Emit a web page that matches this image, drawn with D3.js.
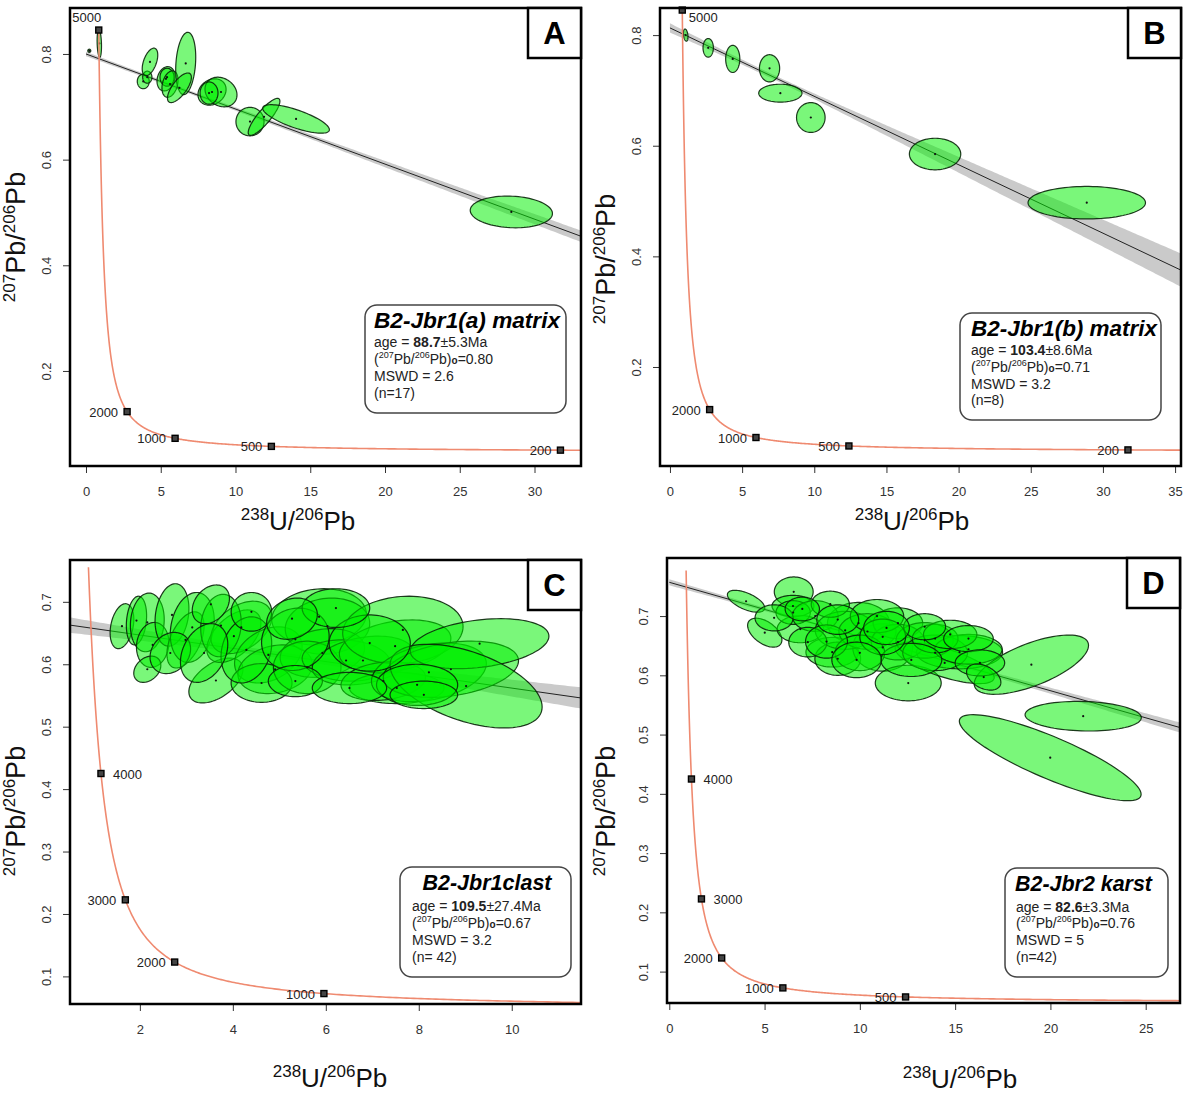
<!DOCTYPE html>
<html>
<head>
<meta charset="utf-8">
<script src="https://cdn.jsdelivr.net/npm/d3@7"></script>
<style>
  body { margin: 0; background: #fff; }
  text { font-family: "Liberation Sans", Arial, sans-serif; }
</style>
</head>
<body>
<div id="viz"></div>
<script>
// ---- data ----
const panelLetters = ['A', 'B', 'C', 'D'];
const sampleNames = ['B2-Jbr1(a) matrix', 'B2-Jbr1(b) matrix', 'B2-Jbr1clast', 'B2-Jbr2 karst'];
const ageValues = ['88.7', '103.4', '109.5', '82.6'];
const ageErrors = ['5.3', '8.6', '27.4', '3.3'];
const initialRatios = ['0.80', '0.71', '0.67', '0.76'];
const mswdValues = ['2.6', '3.2', '3.2', '5'];
const nLabels = ['(n=17)', '(n=8)', '(n= 42)', '(n=42)'];
// 207/206 at x = 0 where the drawn regression line starts
const lineIntercepts = [0.80, 0.813, 0.668, 0.757];

const xDomains = [[-1.07, 33.11], [-0.69, 35.41], [0.497, 11.49], [-0.12, 26.8]];
const yDomains = [[0.0201, 0.887], [0.021, 0.849], [0.0558, 0.767], [0.047, 0.798]];
const xTicks = [[0, 5, 10, 15, 20, 25, 30], [0, 5, 10, 15, 20, 25, 30, 35], [2, 4, 6, 8, 10], [0, 5, 10, 15, 20, 25]];
const yTicks = [[0.2, 0.4, 0.6, 0.8], [0.2, 0.4, 0.6, 0.8], [0.1, 0.2, 0.3, 0.4, 0.5, 0.6, 0.7], [0.1, 0.2, 0.3, 0.4, 0.5, 0.6, 0.7]];

const markerAges = [[5000, 2000, 1000, 500, 200], [5000, 2000, 1000, 500, 200], [4000, 3000, 2000, 1000], [4000, 3000, 2000, 1000, 500]];
const markerSides = [['top', 'left', 'left', 'left', 'left'], ['below', 'left', 'left', 'left', 'left'],
                     ['right', 'left', 'left', 'left'], ['right', 'right', 'left', 'left', 'left']];
const concordiaMaxAge = [5000, 5100, 4840, 4880];

// confidence band of the regression: centre x, min half width, slope error
const bandCentreX = [7, 7, 5, 10];
const bandMinHalf = [0.003, 0.004, 0.005, 0.001];
const bandSlopeErr = [0.0004, 0.00105, 0.0025, 0.0005];

// ellipses: [238U/206Pb, 207Pb/206Pb, sx, sy, rho]
const ellipsesA = [
  [0.22, 0.806, 0.10, 0.003, 0], [0.89, 0.820, 0.147, 0.0265, -0.2],
  [3.83, 0.748, 0.40, 0.0138, 0], [4.10, 0.756, 0.31, 0.0114, 0],
  [4.28, 0.785, 0.52, 0.026, 0.5], [5.35, 0.753, 0.60, 0.023, 0.2],
  [5.42, 0.756, 0.47, 0.017, 0], [5.62, 0.743, 0.54, 0.025, 0.3],
  [6.67, 0.782, 0.67, 0.059, 0.2], [6.25, 0.736, 0.80, 0.028, 0.7],
  [8.43, 0.728, 0.94, 0.025, 0.2], [9.03, 0.728, 1.07, 0.028, -0.2],
  [8.23, 0.726, 0.60, 0.021, 0], [10.97, 0.672, 0.94, 0.027, 0],
  [11.91, 0.681, 1.06, 0.035, 0.85], [14.05, 0.677, 2.23, 0.027, -0.75],
  [28.45, 0.501, 2.75, 0.030, -0.1]
];
const ellipsesB = [
  [1.09, 0.800, 0.16, 0.011, -0.3], [2.65, 0.777, 0.36, 0.0168, 0],
  [4.35, 0.757, 0.49, 0.0246, 0], [6.90, 0.740, 0.70, 0.0246, 0],
  [7.65, 0.695, 1.50, 0.0162, 0], [9.76, 0.651, 0.99, 0.027, 0],
  [18.37, 0.585, 1.78, 0.0285, 0], [28.88, 0.497, 4.07, 0.0294, 0]
];
const ellipsesC = [
  [1.615, 0.661, 0.255, 0.036, 0.3], [1.927, 0.670, 0.218, 0.039, 0.2],
  [2.16, 0.667, 0.364, 0.047, 0.1], [2.276, 0.631, 0.349, 0.036, 0.1],
  [2.16, 0.592, 0.291, 0.021, 0.3], [2.691, 0.679, 0.364, 0.050, 0.2],
  [2.982, 0.639, 0.40, 0.045, 0.5], [3.127, 0.659, 0.473, 0.056, 0.2],
  [3.636, 0.574, 0.582, 0.036, 0.5], [4.022, 0.645, 0.582, 0.042, 0.5],
  [4.182, 0.659, 0.655, 0.042, 0.4], [3.745, 0.662, 0.436, 0.050, 0.1],
  [4.764, 0.615, 0.727, 0.045, 0.3], [4.909, 0.592, 0.80, 0.039, 0.2],
  [4.618, 0.570, 0.655, 0.031, 0], [5.855, 0.676, 1.018, 0.045, 0.1],
  [6.036, 0.661, 0.909, 0.045, 0.1], [5.927, 0.618, 0.909, 0.039, 0.2],
  [5.60, 0.595, 0.727, 0.042, 0], [6.436, 0.606, 0.945, 0.033, -0.1],
  [6.80, 0.606, 1.091, 0.039, 0.3], [7.491, 0.629, 1.20, 0.042, 0.3],
  [7.658, 0.655, 1.295, 0.054, 0.1], [7.527, 0.562, 1.018, 0.025, 0],
  [7.236, 0.573, 0.909, 0.031, 0.2], [8.218, 0.587, 1.236, 0.047, 0.3],
  [8.691, 0.592, 1.455, 0.045, 0.3], [9.309, 0.633, 1.491, 0.040, 0.3],
  [9.018, 0.565, 1.636, 0.067, -0.5], [7.964, 0.567, 0.873, 0.033, 0],
  [4.291, 0.623, 0.545, 0.053, 0.2], [5.345, 0.640, 0.727, 0.050, 0.1],
  [6.945, 0.634, 0.873, 0.045, 0], [2.655, 0.618, 0.436, 0.033, 0.2],
  [3.382, 0.618, 0.509, 0.047, 0.3], [5.345, 0.573, 0.582, 0.025, 0],
  [6.509, 0.562, 0.80, 0.025, 0], [4.40, 0.684, 0.436, 0.031, 0],
  [6.218, 0.690, 0.727, 0.031, 0], [8.109, 0.551, 0.727, 0.022, 0],
  [5.273, 0.673, 0.545, 0.033, 0.2], [3.527, 0.696, 0.40, 0.031, 0.3]
];
const ellipsesD = [
  [4.03, 0.725, 0.98, 0.0185, -0.6], [5.01, 0.672, 0.90, 0.0244, -0.5],
  [6.53, 0.741, 1.02, 0.025, 0], [9.93, 0.688, 1.63, 0.035, 0],
  [6.88, 0.678, 1.22, 0.023, 0], [8.55, 0.639, 1.38, 0.025, 0],
  [8.84, 0.628, 1.2, 0.028, 0], [11.2, 0.647, 1.57, 0.040, 0],
  [12.54, 0.587, 1.73, 0.030, 0], [14.45, 0.621, 2.6, 0.035, -0.7],
  [15.23, 0.639, 2.26, 0.028, 0], [19.0, 0.618, 3.0, 0.050, 0.65],
  [21.72, 0.531, 3.05, 0.025, -0.1], [19.99, 0.461, 4.77, 0.0726, -0.85],
  [6.49, 0.717, 1.1, 0.018, 0], [6.5, 0.706, 0.9, 0.02, 0],
  [7.66, 0.70, 1.2, 0.026, 0], [9.23, 0.676, 1.57, 0.032, 0],
  [10.4, 0.674, 1.5, 0.03, 0], [12.0, 0.688, 1.3, 0.026, 0],
  [12.0, 0.656, 1.4, 0.03, 0], [13.4, 0.659, 1.5, 0.03, 0],
  [13.95, 0.638, 1.7, 0.03, 0], [15.7, 0.644, 1.77, 0.025, 0],
  [13.95, 0.662, 1.2, 0.024, 0], [8.45, 0.72, 1.0, 0.022, 0],
  [7.27, 0.656, 1.0, 0.025, 0], [5.5, 0.697, 1.0, 0.022, 0],
  [10.0, 0.638, 1.3, 0.03, 0], [10.9, 0.70, 1.4, 0.028, 0],
  [12.7, 0.626, 1.6, 0.028, 0], [14.74, 0.669, 1.4, 0.024, 0],
  [8.25, 0.657, 1.1, 0.028, 0], [11.2, 0.665, 1.2, 0.03, 0],
  [13.4, 0.682, 1.1, 0.022, 0], [6.98, 0.712, 0.9, 0.02, 0],
  [9.83, 0.626, 1.3, 0.03, 0], [15.7, 0.662, 1.3, 0.022, 0],
  [8.84, 0.694, 1.1, 0.025, 0], [16.3, 0.621, 1.3, 0.022, 0],
  [11.4, 0.68, 1.2, 0.028, 0], [16.5, 0.597, 0.9, 0.022, -0.4]
];
const ellipseSets = [ellipsesA, ellipsesB, ellipsesC, ellipsesD];

// ---- layout (pixels) ----
const frames = [
  { left: 70, right: 581, top: 8, bottom: 466, yTitle: [25, 237], xTitle: [298, 530],
    legend: { x: 365, y: 305, w: 201, h: 108, tx: 374, titleX: 374, anchor: 'start', titleW: 186, ys: [328, 347, 364, 381, 398] } },
  { left: 660, right: 1181, top: 8, bottom: 466, yTitle: [615, 259], xTitle: [912, 530],
    legend: { x: 960, y: 313, w: 201, h: 107, tx: 971, titleX: 971, anchor: 'start', titleW: 186, ys: [336, 355, 372, 389, 405] } },
  { left: 70, right: 581, top: 560, bottom: 1004, yTitle: [25, 811], xTitle: [330, 1087],
    legend: { x: 400, y: 867, w: 171, h: 110, tx: 412, titleX: 487, anchor: 'middle', titleW: 129, ys: [890, 911, 928, 945, 962] } },
  { left: 667, right: 1180, top: 558, bottom: 1003, yTitle: [615, 811], xTitle: [960, 1088],
    legend: { x: 1005, y: 868, w: 163, h: 109, tx: 1016, titleX: 1015, anchor: 'start', titleW: 137, ys: [891, 912, 928, 945, 962] } }
];

// decay constants (per Ma) for the concordia
const L238 = 1.55125e-4, L235 = 9.8485e-4, U85 = 137.88;
function conc(t) {
  let a = Math.expm1(L238 * t), b = Math.expm1(L235 * t);
  return [1 / a, b / a / U85];
}

let svg = d3.select('#viz').append('svg')
  .attr('width', 1186)
  .attr('height', 1095)
  .style('background', '#fff');

let defs = svg.append('defs');

frames.forEach(function(f, i) {
  let x = d3.scaleLinear().domain(xDomains[i]).range([f.left, f.right]);
  let y = d3.scaleLinear().domain(yDomains[i]).range([f.bottom, f.top]);

  defs.append('clipPath').attr('id', 'clip' + i)
    .append('rect')
    .attr('x', f.left).attr('y', f.top)
    .attr('width', f.right - f.left).attr('height', f.bottom - f.top);

  let g = svg.append('g');
  let plot = g.append('g').attr('clip-path', 'url(#clip' + i + ')');

  // regression line and band
  let age = parseFloat(ageValues[i]);
  let lower = conc(age);
  let y0 = lineIntercepts[i];
  let slope = (lower[1] - y0) / lower[0];
  let lineY = function(v) { return y0 + slope * v; };
  let halfW = function(v) {
    let s = bandSlopeErr[i] * (v - bandCentreX[i]);
    return Math.sqrt(bandMinHalf[i] * bandMinHalf[i] + s * s);
  };
  let xs = d3.range(0, 201).map(function(k) { return xDomains[i][1] * k / 200; });

  plot.append('path')
    .datum(xs)
    .attr('fill', '#bdbdbd')
    .attr('fill-opacity', 0.8)
    .attr('d', d3.area()
      .x(function(d) { return x(d); })
      .y0(function(d) { return y(lineY(d) - halfW(d)); })
      .y1(function(d) { return y(lineY(d) + halfW(d)); }));

  plot.append('line')
    .attr('x1', x(0)).attr('y1', y(y0))
    .attr('x2', x(lower[0])).attr('y2', y(lower[1]))
    .attr('stroke', '#222')
    .attr('stroke-width', 1);

  // error ellipses
  let ell = ellipseSets[i];
  let lineGen = d3.line().curve(d3.curveLinearClosed);
  plot.selectAll('path.ell').data(ell)
    .enter().append('path')
    .attr('class', 'ell')
    .attr('d', function(e) {
      let r2 = Math.sqrt(1 - e[4] * e[4]);
      let pts = d3.range(0, 90).map(function(k) {
        let a = k / 90 * 2 * Math.PI;
        return [x(e[0] + e[2] * Math.cos(a)), y(e[1] + e[3] * (e[4] * Math.cos(a) + r2 * Math.sin(a)))];
      });
      return lineGen(pts);
    })
    .attr('fill', '#00f000')
    .attr('fill-opacity', 0.52)
    .attr('stroke', '#0a250a')
    .attr('stroke-opacity', 0.9)
    .attr('stroke-width', 1.2);

  plot.selectAll('circle.dot').data(ell)
    .enter().append('circle')
    .attr('class', 'dot')
    .attr('cx', function(e) { return x(e[0]); })
    .attr('cy', function(e) { return y(e[1]); })
    .attr('r', 1.1)
    .attr('fill', '#111');

  // concordia curve
  let maxAge = concordiaMaxAge[i];
  let ages = d3.range(0, 401).map(function(k) { return 120 * Math.pow(maxAge / 120, k / 400); });
  plot.append('path')
    .datum(ages.map(conc))
    .attr('fill', 'none')
    .attr('stroke', '#ef8a70')
    .attr('stroke-width', 1.6)
    .attr('d', d3.line().x(function(d) { return x(d[0]); }).y(function(d) { return y(d[1]); }));

  // age markers
  markerAges[i].forEach(function(t, k) {
    let p = conc(t);
    let px = x(p[0]), py = y(p[1]);
    g.append('rect')
      .attr('x', px - 3).attr('y', py - 3)
      .attr('width', 6).attr('height', 6)
      .attr('fill', '#444').attr('stroke', '#000').attr('stroke-width', 1.4);
    let side = markerSides[i][k];
    let lab = g.append('text').attr('font-size', 13).attr('fill', '#222').text(t);
    if (side === 'left') lab.attr('x', px - 9).attr('y', py + 5).attr('text-anchor', 'end');
    if (side === 'right') lab.attr('x', px + 12).attr('y', py + 5).attr('text-anchor', 'start');
    if (side === 'top') lab.attr('x', px - 12).attr('y', py - 8).attr('text-anchor', 'middle');
    if (side === 'below') lab.attr('x', px + 21).attr('y', py + 12).attr('text-anchor', 'middle');
  });

  // axes
  let gx = g.append('g')
    .attr('transform', 'translate(0,' + f.bottom + ')')
    .call(d3.axisBottom(x).tickValues(xTicks[i]).tickSize(7).tickPadding(14).tickFormat(d3.format('d')));
  gx.select('.domain').remove();
  gx.attr('font-size', 13).attr('font-family', '"Liberation Sans", Arial, sans-serif');
  gx.selectAll('text').attr('fill', '#333');
  gx.selectAll('line').attr('stroke', '#333');

  let gy = g.append('g')
    .attr('transform', 'translate(' + f.left + ',0)')
    .call(d3.axisLeft(y).tickValues(yTicks[i]).tickSize(7).tickFormat(d3.format('.1f')));
  gy.select('.domain').remove();
  gy.attr('font-size', 13).attr('font-family', '"Liberation Sans", Arial, sans-serif');
  gy.selectAll('line').attr('stroke', '#333');
  gy.selectAll('text')
    .attr('fill', '#333')
    .attr('x', 0)
    .attr('dy', '0.35em')
    .attr('text-anchor', 'middle')
    .attr('transform', 'translate(-24,0) rotate(-90)');

  // frame
  g.append('rect')
    .attr('x', f.left).attr('y', f.top)
    .attr('width', f.right - f.left).attr('height', f.bottom - f.top)
    .attr('fill', 'none').attr('stroke', '#000').attr('stroke-width', 2.5);

  // axis titles
  let yt = g.append('text')
    .attr('transform', 'translate(' + f.yTitle[0] + ',' + f.yTitle[1] + ') rotate(-90)')
    .attr('text-anchor', 'middle').attr('dy', '0.35em')
    .attr('font-size', 27).attr('fill', '#111');
  yt.append('tspan').attr('font-size', 17).attr('dy', -10).text('207');
  yt.append('tspan').attr('dy', 10).text('Pb/');
  yt.append('tspan').attr('font-size', 17).attr('dy', -10).text('206');
  yt.append('tspan').attr('dy', 10).text('Pb');

  let xt = g.append('text')
    .attr('x', f.xTitle[0]).attr('y', f.xTitle[1])
    .attr('text-anchor', 'middle')
    .attr('font-size', 26).attr('fill', '#111');
  xt.append('tspan').attr('font-size', 17).attr('dy', -10).text('238');
  xt.append('tspan').attr('dy', 10).text('U/');
  xt.append('tspan').attr('font-size', 17).attr('dy', -10).text('206');
  xt.append('tspan').attr('dy', 10).text('Pb');

  // panel letter
  g.append('rect')
    .attr('x', f.right - 53).attr('y', f.top)
    .attr('width', 53).attr('height', 50)
    .attr('fill', '#fff').attr('stroke', '#000').attr('stroke-width', 2.5);
  g.append('text')
    .attr('x', f.right - 26.5).attr('y', f.top + 36)
    .attr('text-anchor', 'middle')
    .attr('font-size', 31).attr('font-weight', 'bold')
    .text(panelLetters[i]);

  // legend
  let L = f.legend;
  g.append('rect')
    .attr('x', L.x).attr('y', L.y).attr('width', L.w).attr('height', L.h)
    .attr('rx', 12).attr('ry', 12)
    .attr('fill', '#fff').attr('stroke', '#444').attr('stroke-width', 1.5);
  g.append('text')
    .attr('x', L.titleX).attr('y', L.ys[0])
    .attr('text-anchor', L.anchor)
    .attr('font-family', 'Lato, "Noto Sans", sans-serif')
    .attr('font-style', 'italic').attr('font-weight', 'bold')
    .attr('font-size', 22)
    .attr('textLength', L.titleW).attr('lengthAdjust', 'spacingAndGlyphs')
    .text(sampleNames[i]);

  let l1 = g.append('text').attr('x', L.tx).attr('y', L.ys[1]).attr('font-size', 14).attr('fill', '#222');
  l1.append('tspan').text('age = ');
  l1.append('tspan').attr('font-weight', 'bold').text(ageValues[i]);
  l1.append('tspan').text('\u00b1' + ageErrors[i] + 'Ma');

  let l2 = g.append('text').attr('x', L.tx).attr('y', L.ys[2]).attr('font-size', 14).attr('fill', '#222');
  l2.append('tspan').text('(');
  l2.append('tspan').attr('font-size', 9).attr('dy', -6).text('207');
  l2.append('tspan').attr('dy', 6).text('Pb/');
  l2.append('tspan').attr('font-size', 9).attr('dy', -6).text('206');
  l2.append('tspan').attr('dy', 6).text('Pb)');
  l2.append('tspan').attr('font-size', 10).attr('font-weight', 'bold').text('o');
  l2.append('tspan').text('=' + initialRatios[i]);

  g.append('text').attr('x', L.tx).attr('y', L.ys[3]).attr('font-size', 14).attr('fill', '#222')
    .text('MSWD = ' + mswdValues[i]);
  g.append('text').attr('x', L.tx).attr('y', L.ys[4]).attr('font-size', 14).attr('fill', '#222')
    .text(nLabels[i]);
});
</script>
</body>
</html>
